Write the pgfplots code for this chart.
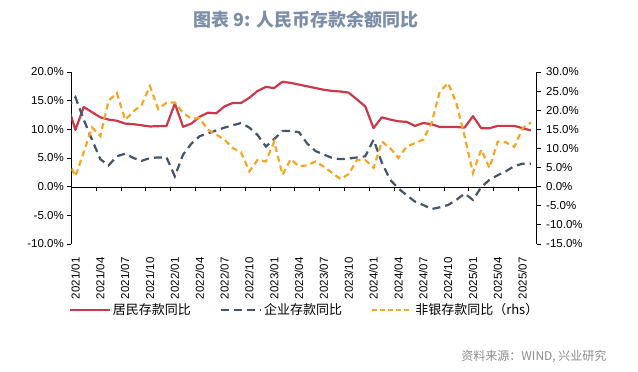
\documentclass[border=0pt]{standalone}
\usepackage{pgfplots}
\pgfplotsset{compat=1.18}
\usepackage{pgfplotstable}
\usepackage{fontspec}
\setmainfont{Liberation Sans}
\newfontfamily\cjk{Noto Sans CJK SC}
\definecolor{cred}{RGB}{205,55,75}
\definecolor{cnavy}{RGB}{68,84,106}
\definecolor{corange}{RGB}{247,166,35}
\definecolor{ctitle}{RGB}{125,142,168}
\definecolor{csrc}{RGB}{140,140,140}

% x = month index + 0.5 (0 = 2021/01); first point (2020/12) is clipped
\pgfplotstableread{
x v
-0.5 14.5
0.5 9.9
1.5 13.9
2.5 13.0
3.5 12.1
4.5 11.7
5.5 11.5
6.5 11.0
7.5 10.9
8.5 10.7
9.5 10.5
10.5 10.55
11.5 10.6
12.5 14.5
13.5 10.45
14.5 11.0
15.5 12.2
16.5 12.9
17.5 12.8
18.5 14.0
19.5 14.6
20.5 14.6
21.5 15.5
22.5 16.7
23.5 17.4
24.5 17.2
25.5 18.3
26.5 18.1
27.5 17.8
28.5 17.5
29.5 17.2
30.5 16.9
31.5 16.7
32.5 16.6
33.5 16.4
34.5 15.2
35.5 14.0
36.5 10.2
37.5 12.1
38.5 11.7
39.5 11.4
40.5 11.3
41.5 10.6
42.5 11.1
43.5 10.9
44.5 10.4
45.5 10.4
46.5 10.4
47.5 10.3
48.5 12.3
49.5 10.2
50.5 10.2
51.5 10.6
52.5 10.6
53.5 10.6
54.5 10.2
55.5 9.8
}\household

\pgfplotstableread{
x v
-0.5 13.6
0.5 15.6
1.5 11.7
2.5 8.2
3.5 4.8
4.5 3.7
5.5 5.3
6.5 5.75
7.5 5.0
8.5 4.5
9.5 5.0
10.5 5.1
11.5 5.1
12.5 1.8
13.5 5.6
14.5 7.5
15.5 8.8
16.5 9.3
17.5 9.8
18.5 10.3
19.5 10.7
20.5 11.1
21.5 10.3
22.5 9.0
23.5 7.0
24.5 8.3
25.5 9.7
26.5 9.7
27.5 9.5
28.5 7.5
29.5 6.2
30.5 5.6
31.5 5.0
32.5 4.8
33.5 4.9
34.5 5.1
35.5 5.3
36.5 8.2
37.5 4.2
38.5 1.2
39.5 -0.3
40.5 -1.5
41.5 -2.6
42.5 -3.2
43.5 -3.9
44.5 -3.6
45.5 -3.2
46.5 -2.3
47.5 -1.2
48.5 -2.3
49.5 -0.1
50.5 1.2
51.5 2.0
52.5 2.7
53.5 3.6
54.5 4.0
55.5 4.0
}\corporate

\pgfplotstableread{
x v
-0.5 7.1
0.5 2.7
1.5 9.0
2.5 15.5
3.5 13.2
4.5 22.5
5.5 24.5
6.5 17.5
7.5 19.7
8.5 21.4
9.5 26.3
10.5 20.3
11.5 22.0
12.5 22.0
13.5 19.3
14.5 17.8
15.5 17.9
16.5 14.9
17.5 13.6
18.5 12.3
19.5 10.1
20.5 9.0
21.5 4.0
22.5 7.0
23.5 6.6
24.5 11.8
25.5 3.1
26.5 7.2
27.5 5.3
28.5 5.6
29.5 6.6
30.5 5.2
31.5 3.6
32.5 2.0
33.5 3.3
34.5 7.0
35.5 7.0
36.5 4.9
37.5 11.8
38.5 10.1
39.5 7.5
40.5 10.5
41.5 11.4
42.5 12.3
43.5 16.6
44.5 24.9
45.5 27.1
46.5 21.9
47.5 13.1
48.5 3.6
49.5 9.7
50.5 4.9
51.5 11.8
52.5 11.6
53.5 10.4
54.5 15.3
55.5 16.8
}\nonbank

\begin{document}
\begin{tikzpicture}[x=1pt,y=1pt]
\useasboundingbox (0,0) rectangle (638,372);
\pgfplotsset{
  base/.style={scale only axis, width=465.4pt, height=172pt,
    xmin=0, xmax=56.2, at={(71.3pt,128pt)}, anchor=south west,
    ticklabel style={font=\fontsize{11.5}{12}\selectfont},
    /pgf/number format/assume math mode=true,
    axis line style={black, line width=0.8pt},
    tick style={black, line width=0.8pt},
    major tick length=4pt,
    ytick align=outside},
}
% left axis
\begin{axis}[base, ymin=-10, ymax=20,
  axis y line*=left, axis x line*=bottom,
  x axis line style={draw=none},
  xtick={0.5,3.5,...,54.5},
  xticklabels={2021/01,2021/04,2021/07,2021/10,2022/01,2022/04,2022/07,2022/10,2023/01,2023/04,2023/07,2023/10,2024/01,2024/04,2024/07,2024/10,2025/01,2025/04,2025/07},
  xticklabel style={rotate=90, anchor=east},
  xticklabel shift=10pt,
  x tick style={draw=none},
  ytick={-10,-5,...,20},
  yticklabel={\pgfmathprintnumber[fixed,fixed zerofill,precision=1]{\tick}\%},
  legend style={at={(axis description cs:-0.006,-0.384)}, anchor=west,
    draw=none, fill=none, inner sep=0pt,
    font=\cjk\fontsize{13}{14}\selectfont,
    /tikz/every even column/.append style={column sep=27pt}},
  legend columns=3,
  legend image code/.code={\draw[#1] (0pt,0pt) -- (40pt,0pt);},
]
\addplot[cred, line width=2.2pt, line join=round] table[x=x,y=v] {\household};
\addlegendentry{居民存款同比}
\addplot[cnavy, line width=2.2pt, dash pattern=on 8pt off 5pt] table[x=x,y=v] {\corporate};
\addlegendentry{企业存款同比}
\addlegendimage{corange, line width=2.2pt, dash pattern=on 5pt off 3pt}
\addlegendentry{非银存款同比（rhs）}
\end{axis}
% right axis
\begin{axis}[base, ymin=-15, ymax=30,
  axis y line*=right, axis x line=none,
  ytick={-15,-10,...,30},
  yticklabel={\pgfmathprintnumber[fixed,fixed zerofill,precision=1]{\tick}\%},
  yticklabel style={xshift=2pt},
]
\addplot[corange, line width=2.2pt, dash pattern=on 6pt off 4pt] table[x=x,y=v] {\nonbank};
\end{axis}
% zero line with ticks
\begin{axis}[scale only axis, width=465.4pt, height=10pt,
  at={(71.3pt,185pt)}, anchor=south west,
  xmin=0, xmax=56.2, ymin=0, ymax=1,
  axis x line*=bottom, axis y line=none,
  axis line style={black, line width=0.8pt},
  tick style={black, line width=0.8pt},
  xtick={0,3,...,54}, xticklabels={},
  xtick align=outside, major tick length=4pt,
]
\end{axis}
\node[font=\cjk\bfseries\fontsize{18}{20}\selectfont, text=ctitle] at (306,352.5) {图表 9: 人民币存款余额同比};
\node[anchor=east, font=\cjk\fontsize{12}{14}\selectfont, text=csrc] at (610,15) {资料来源：WIND, 兴业研究};
\end{tikzpicture}
\end{document}
